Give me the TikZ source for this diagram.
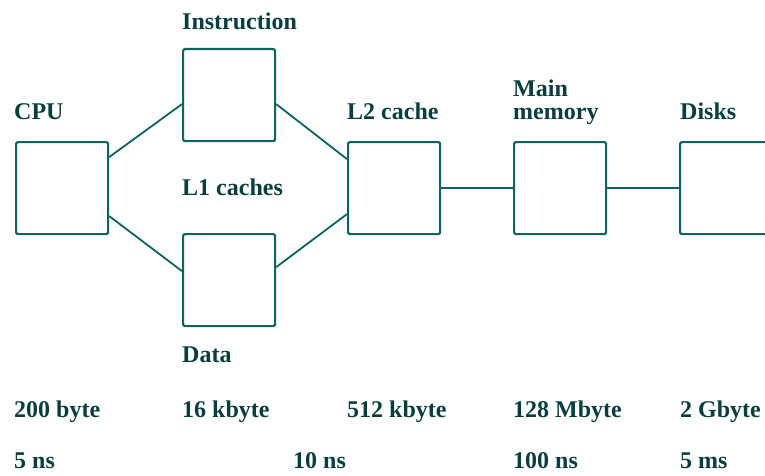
\documentclass[tikz,border=0pt]{standalone}
\usepackage{fontspec}
\setmainfont{Liberation Serif}
\begin{document}
\begin{tikzpicture}[x=1pt,y=-1pt,
  ink/.style={color={rgb,255:red,14;green,98;blue,98}},
  unitbox/.style={ink, draw, line width=2.2pt, rounded corners=2pt,
    minimum width=92pt, minimum height=92pt, inner sep=0pt, anchor=north west},
  link/.style={ink, line width=1.8pt},
  lbl/.style={text={rgb,255:red,10;green,62;blue,62}, inner sep=0pt, anchor=base west,
    font=\fontsize{24}{23}\selectfont\bfseries, align=left}]
\useasboundingbox (0,0) rectangle (765,476);

% memory hierarchy boxes
\node[unitbox] (cpu)  at (15,141) {};
\node[unitbox] (ic)   at (182,48) {};
\node[unitbox] (dc)   at (182,233) {};
\node[unitbox] (l2)   at (347,141) {};
\node[unitbox] (mm)   at (513,141) {};
\node[unitbox] (disk) at (679,141) {};

% connections
\draw[link] ([yshift=31pt]cpu.east) -- ([yshift=-9pt]ic.west);
\draw[link] ([yshift=-9pt]ic.east) -- ([yshift=29pt]l2.west);
\draw[link] ([yshift=-28pt]cpu.east) -- ([yshift=9pt]dc.west);
\draw[link] ([yshift=13pt]dc.east) -- ([yshift=-26pt]l2.west);
\draw[link] (l2.east) -- (mm.west);
\draw[link] (mm.east) -- (disk.west);

% level names
\node[lbl] (tcpu) at (14,120) {CPU};
\node[lbl] (tic)  at (182,30) {Instruction};
\node[lbl] (tl1)  at (182,195) {L1 caches};
\node[lbl] (tdc)  at (182,362) {Data};
\node[lbl] (tl2)  at (347,120) {L2 cache};
\node[lbl] (tmm)  at (513,120) {Main\\memory};
\node[lbl] (tdk)  at (680,120) {Disks};

% sizes
\node[lbl] (s1) at (14,417)  {200 byte};
\node[lbl] (s2) at (182,417) {16 kbyte};
\node[lbl] (s3) at (347,417) {512 kbyte};
\node[lbl] (s4) at (513,417) {128 Mbyte};
\node[lbl] (s5) at (680,417) {2 Gbyte};

% access times
\node[lbl] (a1) at (14,468)  {5 ns};
\node[lbl] (a2) at (293,468) {10 ns};
\node[lbl] (a3) at (513,468) {100 ns};
\node[lbl] (a4) at (680,468) {5 ms};
\end{tikzpicture}
\end{document}
